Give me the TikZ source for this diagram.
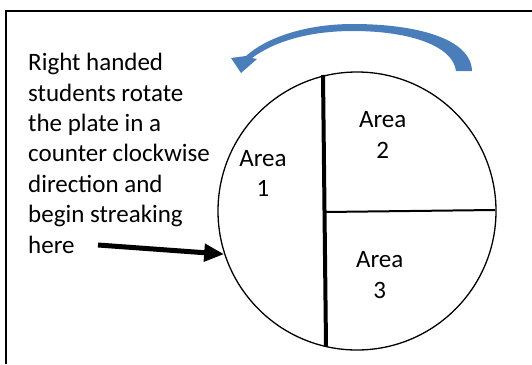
\documentclass[tikz,border=0pt]{standalone}
\usepackage{fontspec}
\setmainfont{Carlito}
\usetikzlibrary{arrows.meta}
\definecolor{rotblue}{RGB}{74,126,187}
\tikzset{
  label text/.style={font=\fontsize{25pt}{30.4pt}\selectfont, inner sep=0pt},
  area text/.style={label text, align=center, anchor=base},
  divider/.style={draw=black},
}
\begin{document}
\begin{tikzpicture}[x=1pt, y=-1pt]
\useasboundingbox (0,0) rectangle (532,364);
% frame (left and top edges)
\draw[line width=2pt] (6,364) -- (6,11) -- (532,11);

% the plate
\node[circle, draw, line width=1.3pt, minimum size=278pt, inner sep=0pt] (plate) at (357,211) {};

% dividers
\coordinate (vtop) at (323,75);
\coordinate (vbot) at (326,346);
\coordinate (hleft) at (325,212);
\coordinate (hright) at (495,210);
\draw[divider, line width=4pt] (vtop) -- (vbot);
\draw[divider, line width=2pt] (hleft) -- (hright);

% area labels (anchored on the baseline of the number line)
\node[area text] (a1) at (263,196.7) {Area\\1};
\node[area text] (a2) at (382.7,158.3) {Area\\2};
\node[area text] (a3) at (379.7,298.3) {Area\\3};

% instruction text (anchored on the baseline of its last line)
\node[label text, align=left, anchor=base west] (note) at (28,253)
  {Right handed\\students rotate\\the plate in a\\counter clockwise\\direction and\\begin streaking\\here};

% pointer to the starting point
\coordinate (tail) at (98,245);
\draw[line width=5pt, -{Triangle[length=20pt,width=17pt]}] (tail) -- (plate.198.4);

% rotation arrow
\fill[rotblue] (472,71) .. controls (471,38) and (415,24) .. (353,24)
  .. controls (305,24) and (266,38) .. (246,56)
  -- (231,58) -- (241,73) -- (257,59) -- (252,58)
  .. controls (275,41) and (310,31) .. (353,31)
  .. controls (410,31) and (453,46) .. (456,71) -- cycle;
\end{tikzpicture}
\end{document}
